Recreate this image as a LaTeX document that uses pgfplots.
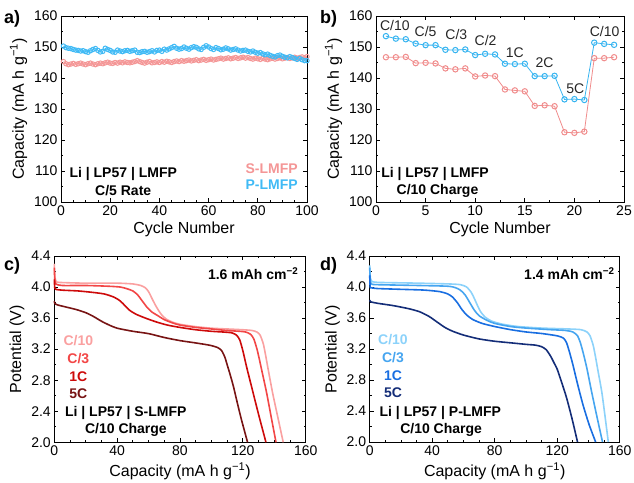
\documentclass[border=0pt]{standalone}
\usepackage{pgfplots}
\pgfplotsset{compat=1.18}
\usepackage{fontspec}
\setmainfont{Liberation Sans}

\definecolor{pinkA}{RGB}{244,150,150}
\definecolor{blueA}{RGB}{64,186,245}
\definecolor{pinkB}{RGB}{240,140,140}
\definecolor{blueB}{RGB}{55,180,240}
\definecolor{sC10}{RGB}{250,160,160}
\definecolor{sC3}{RGB}{242,70,70}
\definecolor{s1C}{RGB}{205,10,10}
\definecolor{s5C}{RGB}{120,20,20}
\definecolor{pC10}{RGB}{140,210,250}
\definecolor{pC3}{RGB}{70,165,240}
\definecolor{p1C}{RGB}{25,110,225}
\definecolor{p5C}{RGB}{20,45,120}

\newcommand{\tickfont}{\fontsize{14}{14}\selectfont}
\newcommand{\labfont}{\fontsize{16}{16}\selectfont}
\newcommand{\annfont}{\bfseries\fontsize{14}{14}\selectfont}

\pgfplotsset{
  panel/.style={
    scale only axis, anchor=south west,
    tick align=inside,
    major tick length=4pt, minor tick length=2pt,
    axis line style={line width=0.9pt},
    every tick/.style={line width=0.8pt, black},
    ticklabel style={font=\tickfont},
    label style={font=\labfont},
    /pgf/number format/assume math mode=true,
    clip=false,
  },
}
\tikzset{txt/.style={inner sep=0pt, font=\annfont}}

\begin{document}
\begin{tikzpicture}
\path[use as bounding box] (0,0) rectangle (634pt,482pt);

% ---- a) cycling at C/5
\begin{axis}[panel, at={(61pt,280pt)}, width=246pt, height=186pt,
  xmin=0, xmax=100, ymin=100, ymax=160,
  xtick={0,20,...,100}, ytick={100,110,...,160},
  minor x tick num=3, minor y tick num=1,
  xlabel={Cycle Number}, ylabel={Capacity (mA h g\textsuperscript{−1})}]
\addplot[color=pinkA, line width=0.6pt, mark=o, mark size=2.2pt, mark options={line width=1pt}] coordinates {
(1,145.3)(2,144.6)(3,144.3)(4,144.5)(5,144.7)(6,144.4)(7,144.6)(8,144.8)(9,144.5)(10,144.3)
(11,144.6)(12,144.8)(13,144.5)(14,144.3)(15,144.6)(16,144.8)(17,144.6)(18,144.9)(19,145.1)(20,144.8)
(21,144.7)(22,145.0)(23,144.8)(24,145.1)(25,144.9)(26,145.2)(27,145.0)(28,144.9)(29,145.1)(30,145.3)
(31,145.6)(32,145.3)(33,145.0)(34,144.8)(35,145.1)(36,145.3)(37,144.9)(38,145.0)(39,145.2)(40,145.0)
(41,145.3)(42,145.1)(43,145.4)(44,145.2)(45,145.0)(46,145.3)(47,145.5)(48,145.3)(49,145.6)(50,145.4)
(51,145.6)(52,145.8)(53,145.5)(54,145.7)(55,145.9)(56,145.6)(57,145.8)(58,146.0)(59,145.7)(60,145.9)
(61,146.1)(62,145.8)(63,146.0)(64,146.2)(65,146.4)(66,146.1)(67,146.3)(68,146.5)(69,146.2)(70,146.4)
(71,146.6)(72,146.3)(73,146.5)(74,146.7)(75,146.4)(76,146.6)(77,146.3)(78,146.1)(79,146.4)(80,146.2)
(81,146.0)(82,146.3)(83,146.1)(84,145.9)(85,146.2)(86,146.4)(87,146.1)(88,146.3)(89,146.5)(90,146.2)
(91,146.4)(92,146.6)(93,146.3)(94,146.5)(95,146.7)(96,146.4)(97,146.6)(98,146.8)(99,146.5)(100,146.9)
};
\addplot[color=blueA, line width=0.6pt, mark=o, mark size=2.2pt, mark options={line width=1pt}] coordinates {
(1,150.3)(2,149.8)(3,149.6)(4,149.5)(5,149.2)(6,149.0)(7,148.9)(8,148.7)(9,148.8)(10,148.5)
(11,148.3)(12,148.8)(13,149.2)(14,149.5)(15,148.9)(16,148.4)(17,148.6)(18,149.6)(19,149.2)(20,148.9)
(21,148.4)(22,148.3)(23,149.0)(24,148.7)(25,148.5)(26,148.8)(27,148.9)(28,148.6)(29,148.8)(30,149.0)
(31,148.3)(32,148.2)(33,148.5)(34,148.6)(35,148.3)(36,148.5)(37,148.8)(38,148.4)(39,148.9)(40,149.0)
(41,148.6)(42,149.3)(43,149.0)(44,149.4)(45,149.8)(46,150.2)(47,149.6)(48,149.3)(49,149.5)(50,150.0)
(51,149.6)(52,149.3)(53,149.8)(54,150.1)(55,149.9)(56,149.4)(57,149.2)(58,149.9)(59,150.4)(60,150.0)
(61,149.5)(62,149.2)(63,149.8)(64,149.5)(65,149.1)(66,149.3)(67,149.7)(68,149.4)(69,149.0)(70,149.2)
(71,149.4)(72,149.0)(73,148.7)(74,148.9)(75,149.0)(76,148.6)(77,148.4)(78,148.7)(79,148.3)(80,148.0)
(81,148.2)(82,147.8)(83,147.5)(84,147.7)(85,147.3)(86,147.0)(87,146.8)(88,147.2)(89,147.4)(90,147.0)
(91,146.7)(92,146.5)(93,146.9)(94,146.6)(95,146.3)(96,146.0)(97,146.3)(98,145.9)(99,145.6)(100,145.6)
};
\node[txt] at (axis cs:25.3,109.1) {Li | LP57 | LMFP};
\node[txt] at (axis cs:25.3,103.7) {C/5 Rate};
\node[txt, anchor=east, text=pinkA] at (axis cs:96.3,110.8) {S-LMFP};
\node[txt, anchor=east, text=blueA] at (axis cs:96.3,105.6) {P-LMFP};
\end{axis}

% ---- b) rate test
\begin{axis}[panel, at={(376pt,280pt)}, width=248pt, height=186pt,
  xmin=0, xmax=25, ymin=100, ymax=160,
  xtick={0,5,...,25}, ytick={100,110,...,160},
  minor x tick num=1, minor y tick num=1,
  xlabel={Cycle Number}, ylabel={Capacity (mA h g\textsuperscript{−1})}]
\addplot[color=pinkB, line width=0.8pt, mark=o, mark size=2.7pt, mark options={line width=1pt}] coordinates {
(1,146.7)(2,146.7)(3,146.8)(4,144.8)(5,144.9)(6,144.7)(7,143.1)(8,142.8)(9,143.1)(10,140.5)
(11,140.8)(12,140.6)(13,136.3)(14,136.0)(15,135.7)(16,131.0)(17,131.2)(18,130.9)(19,122.5)(20,122.3)
(21,122.7)(22,146.4)(23,146.4)(24,146.7)
};
\addplot[color=blueB, line width=0.8pt, mark=o, mark size=2.7pt, mark options={line width=1pt}] coordinates {
(1,153.5)(2,152.7)(3,152.5)(4,151.1)(5,150.6)(6,150.6)(7,149.1)(8,149.0)(9,149.2)(10,147.4)
(11,147.8)(12,147.6)(13,144.6)(14,144.5)(15,144.6)(16,140.6)(17,140.6)(18,140.7)(19,133.1)(20,133.2)
(21,132.9)(22,151.4)(23,151.0)(24,150.7)
};
\begin{scope}[every node/.style={inner sep=0pt, font=\tickfont, text=black!85}]
\node at (axis cs:1.9,157.0) {C/10};
\node at (axis cs:5.0,155.0) {C/5};
\node at (axis cs:8.1,153.9) {C/3};
\node at (axis cs:11.05,152.1) {C/2};
\node at (axis cs:14.0,148.3) {1C};
\node at (axis cs:17.0,144.9) {2C};
\node at (axis cs:20.1,136.5) {5C};
\node at (axis cs:23.05,155.1) {C/10};
\end{scope}
\node[txt] at (axis cs:5.95,109.1) {Li | LP57 | LMFP};
\node[txt] at (axis cs:6.2,103.7) {C/10 Charge};
\end{axis}

% ---- c) S-LMFP discharge curves
\begin{axis}[panel, at={(54.3pt,39.7pt)}, width=251.4pt, height=186.3pt,
  xmin=0, xmax=160, ymin=2.0, ymax=4.4,
  xtick={0,40,...,160}, ytick={2.0,2.4,...,4.4},
  minor x tick num=3, minor y tick num=1,
  yticklabel style={/pgf/number format/.cd, fixed, fixed zerofill, precision=1},
  xlabel={Capacity (mA h g\textsuperscript{−1})}, ylabel={Potential (V)}]
\addplot[color=sC10, line width=1.6pt, smooth, tension=0.4] coordinates {
(0,4.30)(0.3,4.15)(1,4.08)(3,4.06)(20,4.05)(40,4.05)(50,4.04)(55,4.02)(58,3.99)(60,3.94)(62,3.86)(64,3.78)
(66,3.71)(68,3.65)(71,3.59)(75,3.55)(80,3.52)(90,3.49)(100,3.47)(110,3.46)(120,3.45)(126,3.44)(129,3.42)
(131,3.38)(133,3.27)(134.5,3.12)(136.2,2.93)(139,2.63)(142.5,2.30)(145.7,2.00)
};
\addplot[color=sC3, line width=1.6pt, smooth, tension=0.4] coordinates {
(0,4.25)(0.3,4.10)(1,4.04)(5,4.02)(20,4.02)(35,4.01)(42,4.00)(46,3.98)(50,3.95)(53,3.90)(56,3.82)(59,3.74)
(62,3.68)(66,3.63)(70,3.58)(75,3.54)(80,3.51)(90,3.48)(100,3.46)(110,3.44)(118,3.43)(122,3.42)(125,3.39)
(127,3.33)(129,3.20)(130.5,3.07)(132,2.93)(135,2.65)(138,2.33)(141.1,2.00)
};
\addplot[color=s1C, line width=1.6pt, smooth, tension=0.4] coordinates {
(0,4.10)(0.3,3.99)(1,3.97)(5,3.96)(15,3.95)(25,3.93)(32,3.91)(38,3.87)(42,3.82)(45,3.76)(48,3.70)(52,3.65)
(58,3.60)(65,3.55)(72,3.51)(80,3.48)(90,3.45)(100,3.43)(108,3.42)(113,3.41)(116,3.38)(118,3.32)(120,3.18)
(122.4,2.97)(126,2.68)(130,2.36)(134.7,2.00)
};
\addplot[color=s5C, line width=1.6pt, smooth, tension=0.4] coordinates {
(0,3.82)(0.3,3.79)(2,3.77)(8,3.74)(14,3.71)(20,3.67)(25,3.62)(30,3.56)(35,3.51)(40,3.47)(50,3.43)(60,3.40)
(70,3.35)(80,3.31)(90,3.28)(99,3.25)(104,3.22)(106.5,3.18)(108.5,3.10)(110,3.00)(111.8,2.88)(114,2.72)
(116.1,2.54)(119,2.30)(123,2.00)
};
\node[txt, anchor=east] at (axis cs:155.4,4.17) {1.6 mAh cm\textsuperscript{−2}};
\node[txt, text=sC10] at (axis cs:15.3,3.31) {C/10};
\node[txt, text=sC3] at (axis cs:15.3,3.08) {C/3};
\node[txt, text=s1C] at (axis cs:15.3,2.85) {1C};
\node[txt, text=s5C] at (axis cs:15.3,2.62) {5C};
\node[txt] at (axis cs:45.5,2.38) {Li | LP57 | S-LMFP};
\node[txt] at (axis cs:45.6,2.16) {C/10 Charge};
\end{axis}

% ---- d) P-LMFP discharge curves
\begin{axis}[panel, at={(369.7pt,40pt)}, width=250pt, height=186pt,
  xmin=0, xmax=160, ymin=2.0, ymax=4.4,
  xtick={0,40,...,160}, ytick={2.0,2.4,...,4.4},
  minor x tick num=3, minor y tick num=1,
  yticklabel style={/pgf/number format/.cd, fixed, fixed zerofill, precision=1},
  xlabel={Capacity (mA h g\textsuperscript{−1})}, ylabel={Potential (V)}]
\addplot[color=pC10, line width=1.6pt, smooth, tension=0.4] coordinates {
(0,4.28)(0.3,4.15)(1,4.08)(5,4.06)(30,4.05)(50,4.04)(58,4.03)(62,4.00)(65,3.93)(67,3.85)(69,3.76)(71,3.68)
(74,3.61)(78,3.56)(85,3.52)(95,3.49)(110,3.47)(125,3.46)(135,3.45)(139,3.42)(141,3.37)(143,3.25)(144.5,3.10)
(146,2.93)(148.5,2.65)(150.5,2.35)(152.7,2.00)
};
\addplot[color=pC3, line width=1.6pt, smooth, tension=0.4] coordinates {
(0,4.25)(0.3,4.10)(1,4.04)(5,4.03)(30,4.02)(50,4.01)(55,3.99)(58,3.96)(61,3.90)(64,3.80)(67,3.70)(70,3.63)
(75,3.57)(80,3.53)(90,3.49)(100,3.47)(115,3.45)(125,3.44)(130,3.42)(133,3.37)(135,3.27)(137,3.12)(139,2.95)
(142,2.65)(145.5,2.32)(149,2.00)
};
\addplot[color=p1C, line width=1.6pt, smooth, tension=0.4] coordinates {
(0,4.15)(0.3,4.00)(1,3.99)(5,3.98)(20,3.97)(35,3.96)(45,3.94)(50,3.91)(53,3.87)(56,3.80)(59,3.71)(62,3.64)
(66,3.58)(72,3.53)(80,3.49)(90,3.45)(100,3.42)(110,3.40)(120,3.37)(124,3.34)(126,3.28)(128,3.15)(130,3.00)
(133,2.75)(136.5,2.48)(140.5,2.22)(144.6,2.00)
};
\addplot[color=p5C, line width=1.6pt, smooth, tension=0.4] coordinates {
(0,3.83)(0.5,3.81)(5,3.79)(15,3.76)(25,3.72)(32,3.68)(38,3.62)(43,3.55)(48,3.48)(53,3.43)(60,3.38)(70,3.33)
(80,3.30)(90,3.28)(100,3.26)(106,3.25)(110,3.23)(113,3.19)(116,3.10)(118,3.02)(120,2.94)(123,2.76)(126,2.57)
(129.5,2.30)(133,2.00)
};
\node[txt, anchor=east] at (axis cs:156.8,4.17) {1.4 mAh cm\textsuperscript{−2}};
\node[txt, text=pC10] at (axis cs:14.9,3.32) {C/10};
\node[txt, text=pC3] at (axis cs:14.9,3.09) {C/3};
\node[txt, text=p1C] at (axis cs:14.9,2.86) {1C};
\node[txt, text=p5C] at (axis cs:14.9,2.63) {5C};
\node[txt] at (axis cs:45.2,2.38) {Li | LP57 | P-LMFP};
\node[txt] at (axis cs:45.7,2.16) {C/10 Charge};
\end{axis}

% panel letters
\node[anchor=west, inner sep=0pt, font=\bfseries\fontsize{18}{18}\selectfont] at (4pt,463pt) {a)};
\node[anchor=west, inner sep=0pt, font=\bfseries\fontsize{18}{18}\selectfont] at (320pt,463pt) {b)};
\node[anchor=west, inner sep=0pt, font=\bfseries\fontsize{18}{18}\selectfont] at (4pt,216pt) {c)};
\node[anchor=west, inner sep=0pt, font=\bfseries\fontsize{18}{18}\selectfont] at (320pt,216pt) {d)};
\end{tikzpicture}
\end{document}
